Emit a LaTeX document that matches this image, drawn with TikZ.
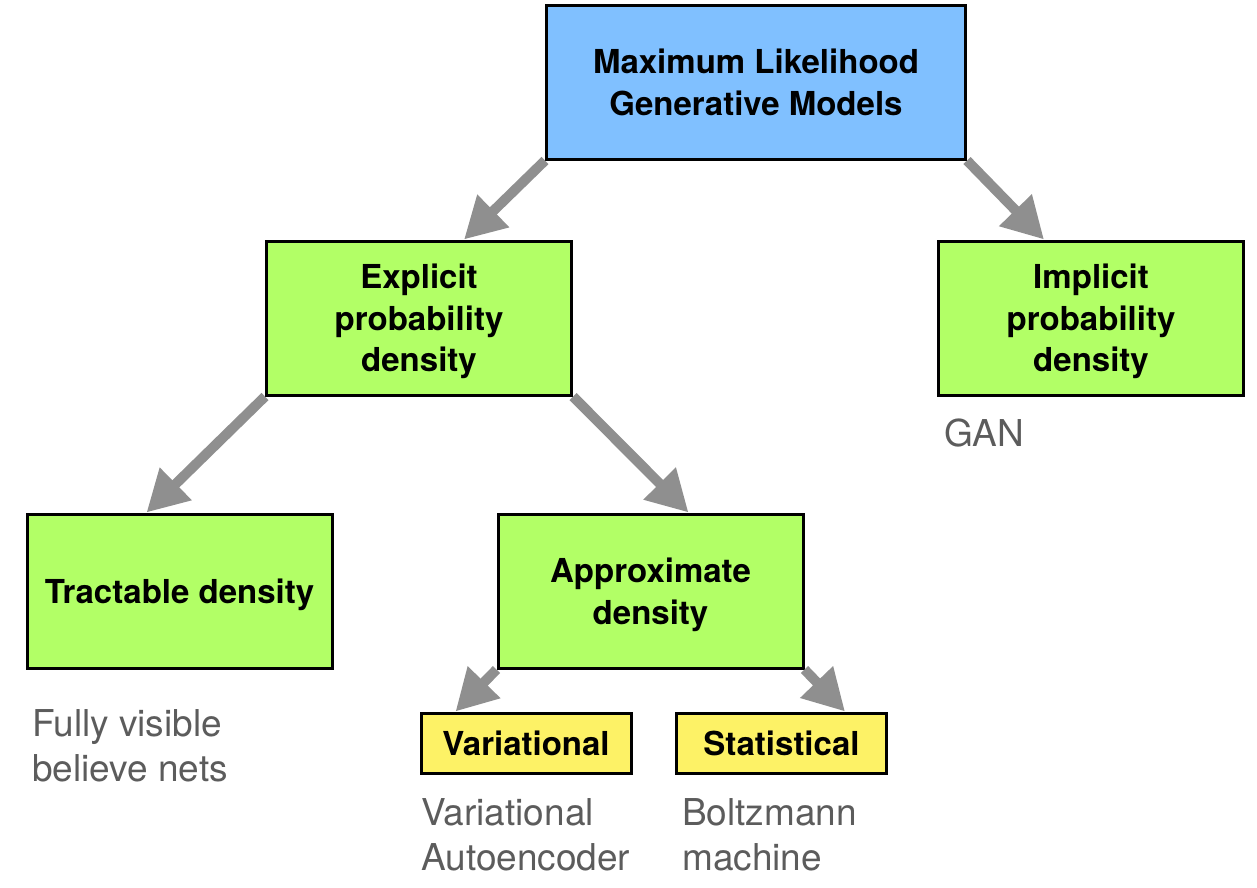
\documentclass[tikz,border=0pt]{standalone}
\usepackage{fontspec}
\setmainfont{TeX Gyre Heros}
\usetikzlibrary{arrows.meta}
\definecolor{topblue}{HTML}{80C0FF}
\definecolor{boxgreen}{HTML}{B2FF66}
\definecolor{boxyellow}{HTML}{FDF266}
\definecolor{arrowgray}{HTML}{8F8F8F}
\definecolor{notegray}{HTML}{5C5C5C}
\begin{document}
\begin{tikzpicture}[x=1pt, y=-1pt,
    box/.style={draw=black, line width=3pt, rectangle, inner sep=0pt, align=center,
        text depth=-2pt, font=\fontsize{33}{41.5}\selectfont\bfseries},
    bigbox/.style={box, minimum width=305pt, minimum height=154pt, fill=boxgreen},
    smallbox/.style={box, minimum width=210pt, minimum height=60pt, fill=boxyellow, text depth=0pt},
    note/.style={inner sep=0pt, anchor=north west, align=left, text=notegray,
        font=\fontsize{37}{45}\selectfont},
    arr/.style={draw=arrowgray, line width=10pt, -{Triangle[length=41pt, width=43pt]}}]
    \useasboundingbox (0,0) rectangle (1257,887);
    \node[box, fill=topblue, minimum width=419pt, minimum height=154pt] (mle) at (756,82) {Maximum Likelihood\\Generative Models};
    \node[bigbox] (explicit) at (419,318) {Explicit\\probability\\density};
    \node[bigbox] (implicit) at (1091,318) {Implicit\\probability\\density};
    \node[bigbox] (tractable) at (179.5,591) {Tractable density};
    \node[bigbox] (approx) at (650.5,591) {Approximate\\density};
    \node[smallbox] (variational) at (526,743) {Variational};
    \node[smallbox] (statistical) at (781.5,743) {Statistical};
    \node[note] (gan) at (944,419) {GAN};
    \node[note] (fvbn) at (32,709) {Fully visible\\believe nets};
    \node[note] (vae) at (421,798) {Variational\\Autoencoder};
    \node[note] (boltz) at (682,798) {Boltzmann\\machine};
    \draw[arr] (mle.south west) -- ([xshift=199pt]explicit.north west);
    \draw[arr] (mle.south east) -- ([xshift=107pt]implicit.north west);
    \draw[arr] (explicit.south west) -- ([xshift=121pt]tractable.north west);
    \draw[arr] (explicit.south east) -- ([xshift=192pt]approx.north west);
    \draw[arr] (approx.south west) -- ([xshift=36pt]variational.north west);
    \draw[arr] (approx.south east) -- ([xshift=170pt]statistical.north west);
\end{tikzpicture}
\end{document}
